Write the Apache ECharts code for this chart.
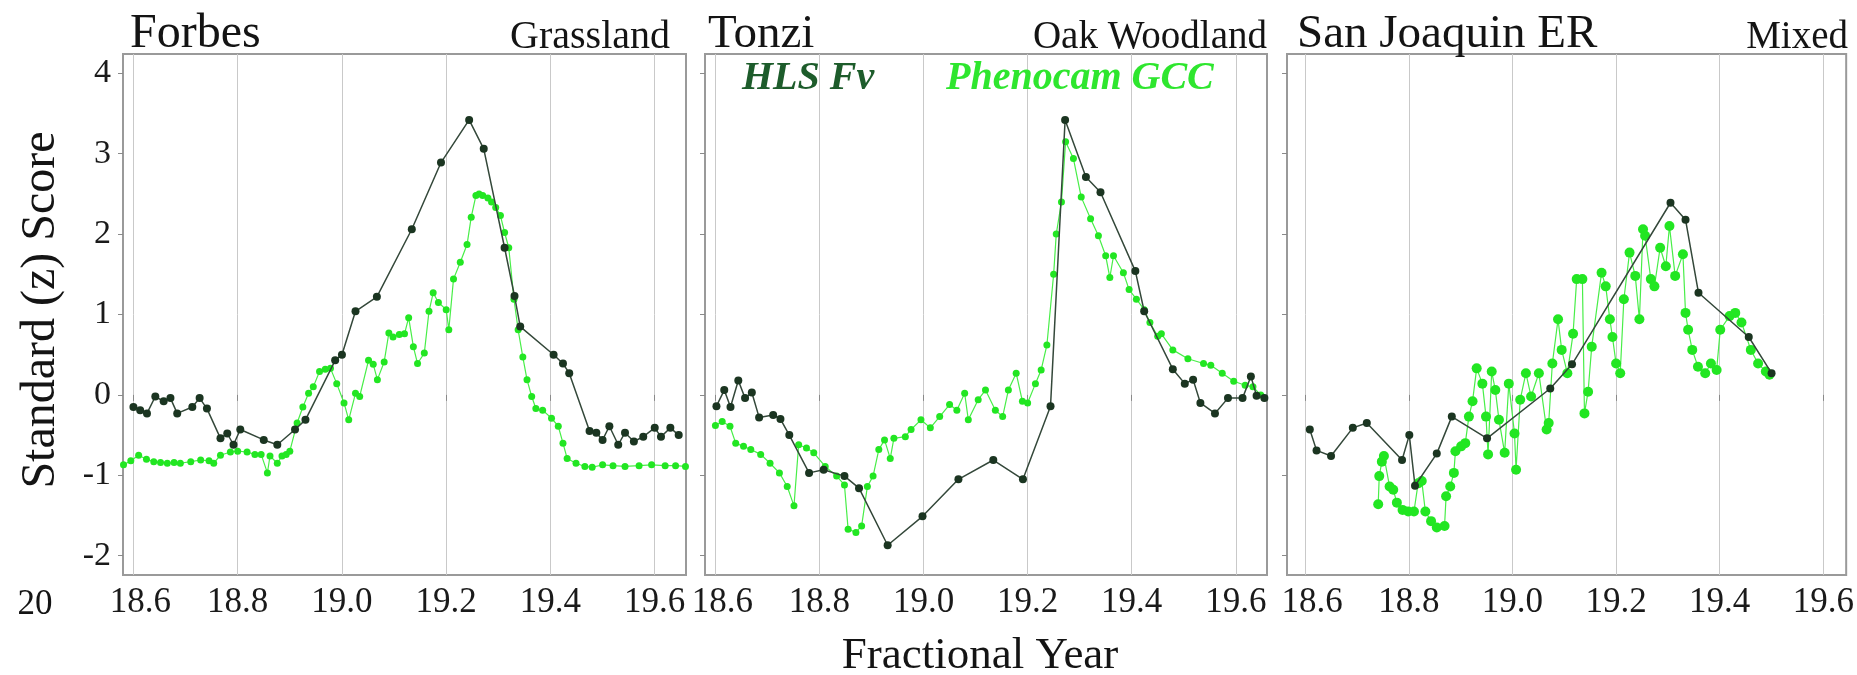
<!DOCTYPE html>
<html><head><meta charset="utf-8">
<script src="https://cdn.jsdelivr.net/npm/echarts@6/dist/echarts.min.js"></script>
<style>html,body{margin:0;padding:0;background:#fff}#c{width:1857px;height:675px}</style>
</head><body><div id="c"></div>
<script>
// ---------- data (fractional year, z score) ----------
const xTicks = [18.6, 18.8, 19.0, 19.2, 19.4, 19.6];
const yTicks = [-2, -1, 0, 1, 2, 3, 4];
const panelNames = ["Forbes", "Tonzi", "San Joaquin ER"];
const panelTypes = ["Grassland", "Oak Woodland", "Mixed"];

const forbesHLS = [[18.600,-0.15],[18.613,-0.19],[18.626,-0.23],[18.642,-0.02],[18.658,-0.08],[18.671,-0.04],[18.684,-0.23],[18.713,-0.15],[18.727,-0.04],[18.741,-0.17],[18.767,-0.54],[18.780,-0.48],[18.792,-0.62],[18.805,-0.43],[18.850,-0.56],[18.876,-0.62],[18.910,-0.43],[18.930,-0.31],[18.987,0.43],[19.000,0.50],[19.026,1.04],[19.067,1.22],[19.134,2.06],[19.190,2.89],[19.244,3.42],[19.272,3.06],[19.312,1.83],[19.331,1.23],[19.342,0.85],[19.406,0.50],[19.424,0.39],[19.436,0.27],[19.475,-0.45],[19.488,-0.47],[19.500,-0.56],[19.513,-0.39],[19.530,-0.62],[19.543,-0.47],[19.560,-0.58],[19.578,-0.52],[19.600,-0.41],[19.612,-0.52],[19.630,-0.41],[19.646,-0.50]];
const forbesGCC = [[18.581,-0.87],[18.595,-0.82],[18.610,-0.75],[18.625,-0.80],[18.639,-0.83],[18.652,-0.84],[18.665,-0.85],[18.678,-0.84],[18.690,-0.85],[18.710,-0.83],[18.729,-0.81],[18.745,-0.82],[18.754,-0.85],[18.767,-0.75],[18.786,-0.71],[18.800,-0.70],[18.818,-0.71],[18.833,-0.74],[18.845,-0.74],[18.857,-0.97],[18.862,-0.76],[18.876,-0.85],[18.885,-0.76],[18.893,-0.74],[18.900,-0.70],[18.914,-0.35],[18.925,-0.15],[18.936,0.02],[18.945,0.10],[18.957,0.29],[18.968,0.32],[18.978,0.33],[18.990,0.14],[19.004,-0.10],[19.013,-0.31],[19.026,0.02],[19.034,-0.02],[19.051,0.43],[19.060,0.38],[19.068,0.19],[19.081,0.41],[19.090,0.77],[19.098,0.72],[19.110,0.75],[19.120,0.76],[19.128,0.96],[19.137,0.60],[19.145,0.39],[19.158,0.52],[19.167,1.04],[19.175,1.27],[19.185,1.15],[19.200,1.06],[19.205,0.81],[19.214,1.44],[19.227,1.65],[19.240,1.87],[19.248,2.21],[19.257,2.48],[19.263,2.50],[19.270,2.48],[19.280,2.45],[19.287,2.40],[19.295,2.33],[19.304,2.23],[19.312,2.02],[19.320,1.83],[19.330,1.19],[19.338,0.81],[19.347,0.47],[19.355,0.19],[19.364,-0.02],[19.372,-0.17],[19.385,-0.19],[19.402,-0.29],[19.415,-0.39],[19.424,-0.60],[19.432,-0.79],[19.449,-0.85],[19.466,-0.89],[19.480,-0.90],[19.500,-0.87],[19.520,-0.88],[19.543,-0.89],[19.570,-0.88],[19.594,-0.87],[19.620,-0.88],[19.640,-0.88],[19.659,-0.89]];

const tonziHLS = [[18.602,-0.14],[18.617,0.06],[18.629,-0.15],[18.644,0.18],[18.657,-0.04],[18.670,0.03],[18.684,-0.28],[18.711,-0.25],[18.725,-0.30],[18.742,-0.50],[18.780,-0.97],[18.808,-0.93],[18.848,-1.01],[18.876,-1.16],[18.931,-1.87],[18.998,-1.51],[19.067,-1.05],[19.134,-0.81],[19.191,-1.05],[19.244,-0.14],[19.272,3.42],[19.312,2.71],[19.340,2.52],[19.407,1.54],[19.424,1.04],[19.479,0.32],[19.502,0.14],[19.518,0.19],[19.532,-0.10],[19.560,-0.23],[19.585,-0.04],[19.613,-0.04],[19.629,0.23],[19.640,-0.01],[19.655,-0.04]];
const tonziGCC = [[18.600,-0.38],[18.613,-0.33],[18.628,-0.39],[18.639,-0.60],[18.654,-0.64],[18.668,-0.68],[18.687,-0.74],[18.705,-0.85],[18.723,-0.97],[18.738,-1.14],[18.751,-1.38],[18.760,-0.62],[18.775,-0.66],[18.789,-0.72],[18.811,-0.89],[18.833,-1.01],[18.848,-1.12],[18.855,-1.67],[18.870,-1.71],[18.881,-1.63],[18.892,-1.14],[18.903,-1.01],[18.914,-0.68],[18.925,-0.56],[18.936,-0.79],[18.943,-0.54],[18.965,-0.52],[18.976,-0.43],[18.995,-0.31],[19.013,-0.41],[19.031,-0.27],[19.050,-0.12],[19.064,-0.19],[19.079,0.02],[19.086,-0.31],[19.105,-0.06],[19.119,0.06],[19.138,-0.19],[19.152,-0.27],[19.163,0.06],[19.178,0.27],[19.190,-0.08],[19.200,-0.10],[19.215,0.14],[19.226,0.31],[19.237,0.62],[19.250,1.50],[19.255,2.00],[19.265,2.40],[19.273,3.15],[19.288,2.94],[19.303,2.46],[19.321,2.19],[19.336,1.98],[19.350,1.73],[19.358,1.46],[19.365,1.73],[19.384,1.52],[19.395,1.31],[19.409,1.19],[19.424,1.06],[19.435,0.90],[19.450,0.73],[19.457,0.76],[19.479,0.56],[19.508,0.45],[19.538,0.39],[19.552,0.37],[19.574,0.27],[19.596,0.17],[19.618,0.12],[19.633,0.10],[19.648,0.00]];

const sjHLS = [[18.609,-0.43],[18.622,-0.69],[18.650,-0.76],[18.692,-0.41],[18.719,-0.35],[18.787,-0.81],[18.801,-0.50],[18.812,-1.13],[18.854,-0.73],[18.883,-0.27],[18.951,-0.54],[19.073,0.08],[19.115,0.38],[19.305,2.39],[19.334,2.18],[19.359,1.27],[19.456,0.72],[19.500,0.27]];
const sjGCC = [[18.741,-1.36],[18.743,-1.01],[18.748,-0.83],[18.752,-0.76],[18.763,-1.14],[18.770,-1.18],[18.777,-1.34],[18.788,-1.43],[18.799,-1.45],[18.810,-1.45],[18.818,-1.10],[18.825,-1.07],[18.832,-1.45],[18.843,-1.57],[18.854,-1.65],[18.869,-1.63],[18.872,-1.26],[18.880,-1.14],[18.887,-0.97],[18.890,-0.70],[18.901,-0.64],[18.909,-0.60],[18.916,-0.27],[18.923,-0.08],[18.931,0.33],[18.942,0.14],[18.949,-0.27],[18.953,-0.74],[18.960,0.29],[18.967,0.06],[18.974,-0.31],[18.985,-0.72],[18.993,0.14],[19.004,-0.48],[19.007,-0.93],[19.015,-0.06],[19.026,0.27],[19.036,-0.02],[19.051,0.27],[19.066,-0.43],[19.070,-0.35],[19.077,0.39],[19.088,0.94],[19.095,0.56],[19.106,0.27],[19.117,0.76],[19.124,1.44],[19.135,1.44],[19.139,-0.23],[19.146,0.04],[19.153,0.60],[19.172,1.52],[19.180,1.35],[19.188,0.94],[19.193,0.72],[19.200,0.39],[19.208,0.27],[19.215,1.19],[19.226,1.77],[19.237,1.48],[19.245,0.94],[19.252,2.06],[19.256,1.98],[19.267,1.44],[19.274,1.35],[19.285,1.83],[19.296,1.60],[19.303,2.10],[19.314,1.48],[19.329,1.75],[19.334,1.02],[19.339,0.81],[19.347,0.56],[19.358,0.35],[19.372,0.27],[19.383,0.39],[19.394,0.31],[19.401,0.81],[19.419,0.98],[19.430,1.02],[19.442,0.90],[19.460,0.56],[19.474,0.39],[19.489,0.29],[19.496,0.25]];

const hlsSets = [forbesHLS, tonziHLS, sjHLS];
const gccSets = [forbesGCC, tonziGCC, sjGCC];

// ---------- layout ----------
const SERIF = '"Liberation Serif","Times New Roman",serif';
const grids = [
  {left:123, top:54, width:563, height:521},
  {left:705, top:54, width:562, height:521},
  {left:1287, top:54, width:562, height:521}
];
const xRanges = [[18.58,19.66],[18.58,19.66],[18.565,19.644]];

const chart = echarts.init(document.getElementById('c'), null, {renderer:'canvas'});

const xAxis = grids.map((g,i)=>({
  type:'value', gridIndex:i, min:xRanges[i][0], max:xRanges[i][1],
  axisLine:{show:false},
  axisTick:{show:true, length:6, customValues:xTicks, lineStyle:{color:'#8a8a8a', width:1}},
  axisLabel:{customValues:xTicks, margin:10, fontSize:35, fontFamily:SERIF, color:'#1a1a1a',
    formatter:v=> Math.abs(v-18.6)<1e-6 ? '{a|18.6}' : v.toFixed(1),
    rich:{a:{fontSize:35, fontFamily:SERIF, color:'#1a1a1a', padding:[0,0,0,14]}}},
  splitLine:{show:true, lineStyle:{color:'#c9c9c9', width:1}}
}));
const yAxis = grids.map((g,i)=>({
  type:'value', gridIndex:i, min:-2.24, max:4.24,
  axisLine:{show:false},
  axisTick:{show:true, length:5, customValues:yTicks, lineStyle:{color:'#8a8a8a', width:1}},
  axisLabel:{show:i===0, customValues:yTicks, margin:12, fontSize:34, fontFamily:SERIF, color:'#1a1a1a',
    formatter:v=>String(v)},
  splitLine:{show:false}
}));

const series = [];
for (let i=0;i<3;i++){
  series.push({
    type:'line', name:'Phenocam GCC', xAxisIndex:i, yAxisIndex:i, data:gccSets[i],
    symbol:'circle', symbolSize: i===2 ? 10 : 7, showSymbol:true, showAllSymbol:true,
    lineStyle:{color:'#48ee48', width:1.2}, itemStyle:{color:'#22e622'},
    z:2, animation:false, silent:true
  });
  series.push({
    type:'line', name:'HLS Fv', xAxisIndex:i, yAxisIndex:i, data:hlsSets[i],
    symbol:'circle', symbolSize:8, showSymbol:true, showAllSymbol:true,
    lineStyle:{color:'#34483a', width:1.5}, itemStyle:{color:'#1b3521'},
    z:3, animation:false, silent:true
  });
}

function txt(text, x, baseline, size, align, opts){
  opts = opts || {};
  return {type:'text', x:x, y:baseline - 0.3375*size, silent:true, z:10,
    style:{text:text, x:0, y:0, fill:opts.fill||'#141414',
      font:(opts.style||'')+' '+size+'px '+SERIF, textAlign:align, textVerticalAlign:'middle'}};
}
const graphic = [
  txt(panelNames[0], 130, 51, 48, 'left'),
  txt(panelTypes[0], 670, 51, 40, 'right'),
  txt(panelNames[1], 708, 51, 47, 'left'),
  txt(panelTypes[1], 1267, 51, 39, 'right'),
  txt(panelNames[2], 1297, 51, 47, 'left'),
  txt(panelTypes[2], 1848, 51, 39, 'right'),
  txt('HLS Fv', 742, 92, 40, 'left', {style:'italic bold', fill:'#1d5c2b'}),
  txt('Phenocam GCC', 946, 92, 40, 'left', {style:'italic bold', fill:'#2ee62e'}),
  txt('20', 35, 617, 35, 'center'),
  txt('Fractional Year', 980, 671, 45, 'center'),
  {type:'text', x:41, y:310, rotation:Math.PI/2, silent:true, z:10,
   style:{text:'Standard (z) Score', x:0, y:0, fill:'#141414', font:'48px '+SERIF,
     textAlign:'center', textVerticalAlign:'middle'}}
];

chart.setOption({
  animation:false,
  backgroundColor:'#ffffff',
  grid: grids.map(g=>Object.assign({show:true, borderColor:'#9a9a9a', borderWidth:2, backgroundColor:'transparent', containLabel:false}, g)),
  xAxis, yAxis, series, graphic
});
</script></body></html>
